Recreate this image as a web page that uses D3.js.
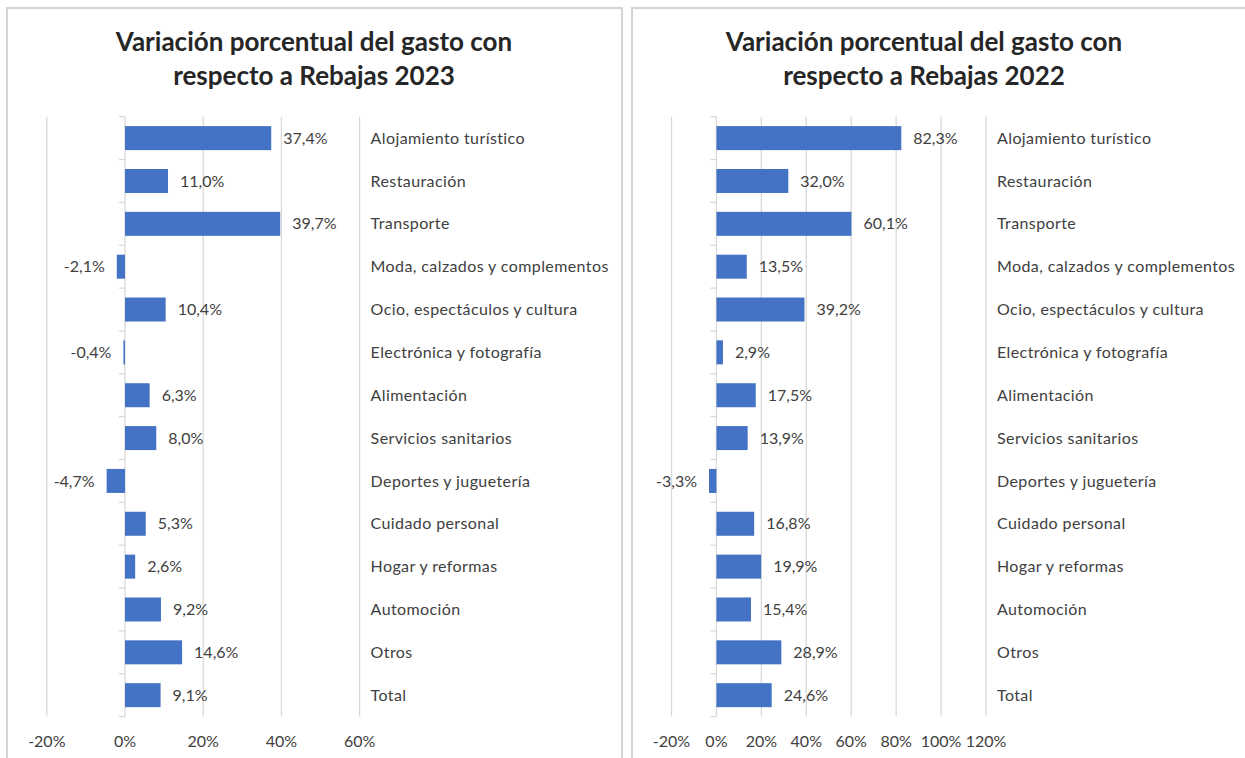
<!DOCTYPE html>
<html>

<head>
    <meta charset="utf-8">
    <style>
        body { margin: 0; background: #fff; }
        svg text { font-family: Lato, "Open Sans", sans-serif; fill: #404040; }
        .title { font-weight: bold; font-size: 26px; fill: #262626; text-anchor: middle; }
        .cat { font-size: 16px; letter-spacing: 0.4px; }
        .val { font-size: 16px; }
        .tick-lbl { font-size: 16px; text-anchor: middle; }
    </style>
    <script src="https://d3js.org/d3.v7.min.js"></script>
</head>

<body>
    <svg width="1245" height="758"></svg>
    <script>
        // data
        var categories = ["Alojamiento turístico", "Restauración", "Transporte", "Moda, calzados y complementos",
            "Ocio, espectáculos y cultura", "Electrónica y fotografía", "Alimentación", "Servicios sanitarios",
            "Deportes y juguetería", "Cuidado personal", "Hogar y reformas", "Automoción", "Otros", "Total"];
        var vs2023 = [37.4, 11.0, 39.7, -2.1, 10.4, -0.4, 6.3, 8.0, -4.7, 5.3, 2.6, 9.2, 14.6, 9.1];
        var vs2022 = [82.3, 32.0, 60.1, 13.5, 39.2, 2.9, 17.5, 13.9, -3.3, 16.8, 19.9, 15.4, 28.9, 24.6];
        var ticks2023 = [-20, 0, 20, 40, 60];
        var ticks2022 = [-20, 0, 20, 40, 60, 80, 100, 120];
        var titles = [["Variación porcentual del gasto con", "respecto a Rebajas 2023"],
                      ["Variación porcentual del gasto con", "respecto a Rebajas 2022"]];

        var svg = d3.select("svg");
        var es = d3.formatLocale({ decimal: ",", thousands: ".", grouping: [3], currency: ["", "€"], minus: "-" });
        var fmt = es.format(".1f");
        var grid = "#d9d9d9";

        // panel frames
        svg.append("rect").attr("x", 7).attr("y", 8).attr("width", 615).attr("height", 770)
            .attr("fill", "none").attr("stroke", "#d4d4d4").attr("stroke-width", 2);
        svg.append("rect").attr("x", 632).attr("y", 8).attr("width", 640).attr("height", 770)
            .attr("fill", "none").attr("stroke", "#d4d4d4").attr("stroke-width", 2);

        function drawPanel(values, ticks, xRange, titleLines, titleX) {
            var x = d3.scaleLinear().domain([ticks[0], ticks[ticks.length - 1]]).range(xRange);
            var y = d3.scaleBand().domain(categories).range([116.7, 716.6])
                .paddingInner(0.44).paddingOuter(0.22);
            var step = y.step();
            var g = svg.append("g");

            // title
            g.selectAll(".title").data(titleLines).enter().append("text")
                .attr("class", "title")
                .attr("x", titleX)
                .attr("y", function (d, i) { return 51 + i * 34; })
                .text(function (d) { return d; });

            // vertical gridlines
            g.selectAll(".grid").data(ticks.filter(function (t) { return t !== 0; })).enter().append("line")
                .attr("x1", function (d) { return x(d); }).attr("x2", function (d) { return x(d); })
                .attr("y1", 116.7).attr("y2", 716.6)
                .attr("stroke", grid).attr("stroke-width", 1.3);

            // category axis at zero, with ticks on the left
            g.append("line").attr("x1", x(0)).attr("x2", x(0)).attr("y1", 116.7).attr("y2", 716.6)
                .attr("stroke", grid).attr("stroke-width", 1.3);
            g.selectAll(".ytick").data(d3.range(categories.length + 1)).enter().append("line")
                .attr("x1", x(0) - 6).attr("x2", x(0))
                .attr("y1", function (i) { return 116.7 + i * step; })
                .attr("y2", function (i) { return 116.7 + i * step; })
                .attr("stroke", grid).attr("stroke-width", 1.3);

            // bars
            g.selectAll(".bar").data(values).enter().append("rect")
                .attr("x", function (d) { return x(Math.min(0, d)); })
                .attr("y", function (d, i) { return y(categories[i]); })
                .attr("width", function (d) { return Math.abs(x(d) - x(0)); })
                .attr("height", y.bandwidth())
                .attr("fill", "#4472c4");

            // value labels
            g.selectAll(".val").data(values).enter().append("text")
                .attr("class", "val")
                .attr("x", function (d) { return d < 0 ? x(d) - 12 : x(d) + 12; })
                .attr("y", function (d, i) { return y(categories[i]) + y.bandwidth() / 2; })
                .attr("dy", "0.35em")
                .attr("text-anchor", function (d) { return d < 0 ? "end" : "start"; })
                .text(function (d) { return fmt(d) + "%"; });

            // category labels on the right
            g.selectAll(".cat").data(categories).enter().append("text")
                .attr("class", "cat")
                .attr("x", xRange[1] + 11)
                .attr("y", function (d) { return y(d) + y.bandwidth() / 2; })
                .attr("dy", "0.35em")
                .text(function (d) { return d; });

            // x tick labels
            g.selectAll(".tick-lbl").data(ticks).enter().append("text")
                .attr("class", "tick-lbl")
                .attr("x", function (d) { return x(d); })
                .attr("y", 741)
                .attr("dy", "0.35em")
                .text(function (d) { return d + "%"; });
        }

        drawPanel(vs2023, ticks2023, [46.8, 359.6], titles[0], 314);
        drawPanel(vs2022, ticks2022, [671.5, 986], titles[1], 924);
    </script>
</body>

</html>
